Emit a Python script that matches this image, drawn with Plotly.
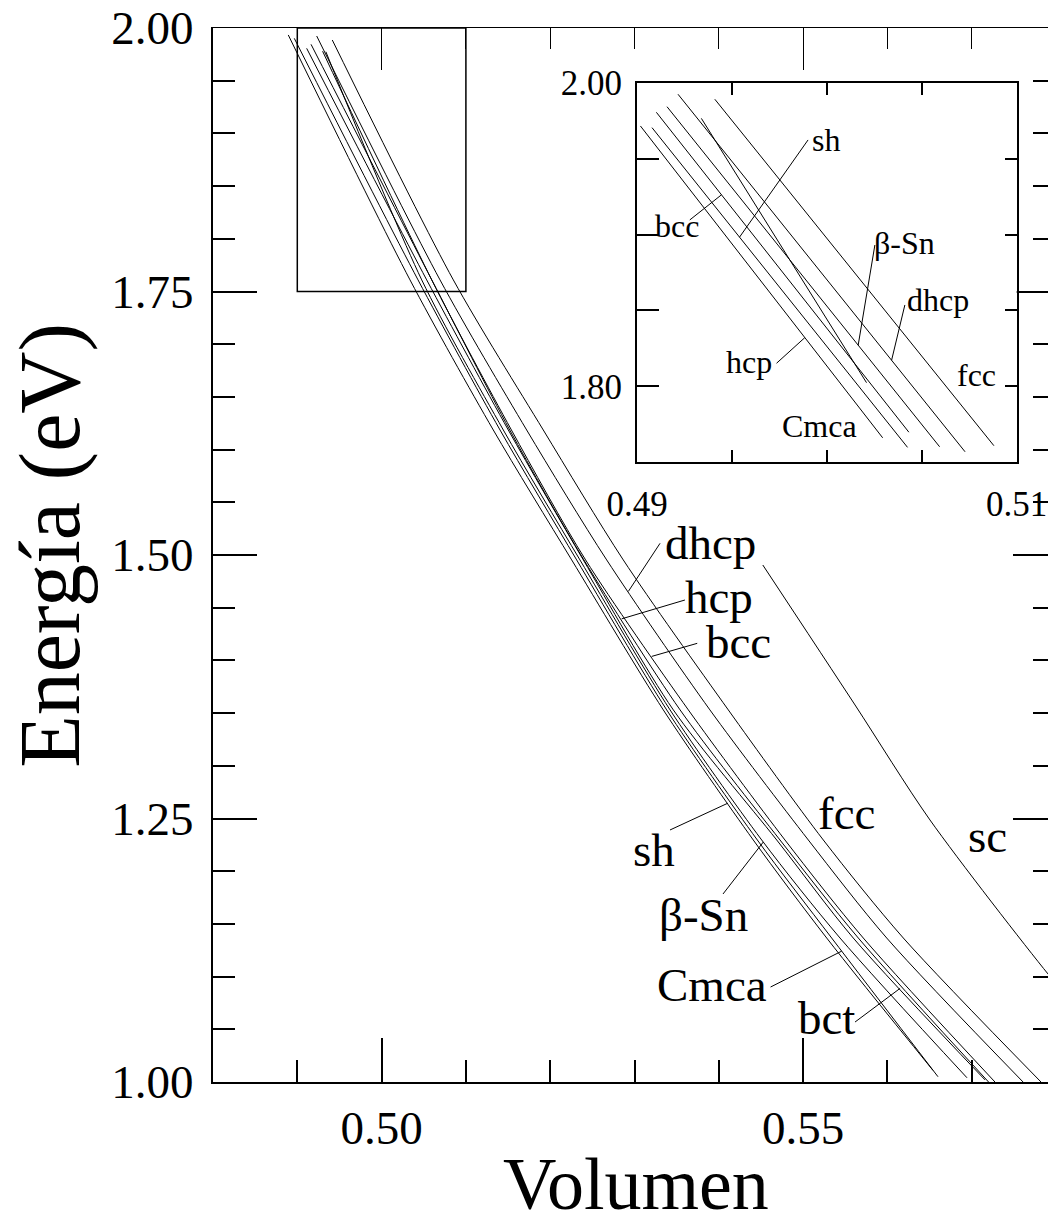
import numpy as np
import plotly.graph_objects as go

# ---------------- data ----------------
names = ["sh", "Cmca", "β-Sn", "bct", "hcp", "bcc", "dhcp", "fcc", "sc"]

# main panel: volume / energy samples of each E(V) curve
V_sh   = [0.48893, 0.50337, 0.51325, 0.52255, 0.53342, 0.54409, 0.55280, 0.56541]
E_sh   = [1.9934, 1.7610, 1.6186, 1.4953, 1.3530, 1.2296, 1.1366, 1.0110]
V_cmca = [0.48964, 0.50432, 0.51405, 0.52314, 0.53382, 0.54457, 0.55339, 0.56600]
E_cmca = [1.9902, 1.7610, 1.6186, 1.4953, 1.3530, 1.2296, 1.1366, 1.0050]
V_bsn  = [0.49339, 0.50476, 0.51444, 0.52353, 0.53422, 0.54509, 0.55438, 0.56944]
E_bsn  = [1.9775, 1.7610, 1.6186, 1.4953, 1.3530, 1.2296, 1.1366, 1.0040]
V_bct  = [0.49111, 0.50535, 0.51503, 0.52393, 0.53461, 0.54687, 0.55595, 0.57158]
E_bct  = [1.9807, 1.7610, 1.6186, 1.4953, 1.3530, 1.2296, 1.1366, 1.0020]
V_hcp  = [0.49163, 0.50595, 0.51520, 0.52400, 0.53541, 0.54726, 0.55655, 0.57200]
E_hcp  = [1.9845, 1.7610, 1.6186, 1.4953, 1.3530, 1.2296, 1.1366, 1.0000]
V_bcc  = [0.49300, 0.50595, 0.51540, 0.52420, 0.53639, 0.54785, 0.55714, 0.57276]
E_bcc  = [1.9780, 1.7610, 1.6186, 1.4953, 1.3530, 1.2296, 1.1366, 1.0000]
V_dhcp = [0.49230, 0.50693, 0.51721, 0.52670, 0.53895, 0.55062, 0.55992, 0.57609]
E_dhcp = [1.9924, 1.7610, 1.6186, 1.4953, 1.3530, 1.2296, 1.1366, 1.0000]
V_fcc  = [0.49415, 0.50851, 0.51918, 0.52867, 0.54113, 0.55240, 0.56189, 0.57822]
E_fcc  = [1.9886, 1.7610, 1.6186, 1.4953, 1.3530, 1.2296, 1.1366, 1.0000]
V_sc   = [0.54522, 0.55616, 0.56505, 0.57905, 0.58225]
E_sc   = [1.4905, 1.3577, 1.2486, 1.1025, 1.0730]

main_V = [V_sh, V_cmca, V_bsn, V_bct, V_hcp, V_bcc, V_dhcp, V_fcc, V_sc]
main_E = [E_sh, E_cmca, E_bsn, E_bct, E_hcp, E_bcc, E_dhcp, E_fcc, E_sc]

# inset panel: end points of each (nearly straight) segment
inV_fcc  = [0.49410, 0.50880]; inE_fcc  = [1.9891, 1.7609]
inV_dhcp = [0.49216, 0.50728]; inE_dhcp = [1.9924, 1.7569]
inV_bsn  = [0.49158, 0.50594]; inE_bsn  = [1.9842, 1.7602]
inV_hcp  = [0.49018, 0.50294]; inE_hcp  = [1.9715, 1.7661]
inV_bcc  = [0.49102, 0.50432]; inE_bcc  = [1.9805, 1.7698]
inV_sh   = [0.49079, 0.50425]; inE_sh   = [1.9704, 1.7598]
inV_bct  = [0.49339, 0.50209]; inE_bct  = [1.9765, 1.8024]
inset_V = [inV_fcc, inV_dhcp, inV_bsn, inV_hcp, inV_bcc, inV_sh, inV_bct]
inset_E = [inE_fcc, inE_dhcp, inE_bsn, inE_hcp, inE_bcc, inE_sh, inE_bct]

# axis ticks
x_major = [0.50, 0.55]
y_major = [1.00, 1.25, 1.50, 1.75, 2.00]
inset_xticks = [0.49, 0.495, 0.50, 0.505, 0.51]
inset_xtext = ["0.49", "", "", "", "0.51"]
inset_yticks = [1.75, 1.80, 1.85, 1.90, 1.95, 2.00]
inset_ytext = ["", "1.80", "", "", "", "2.00"]

FONT = "Liberation Serif"
BLK = "black"

fig = go.Figure()
for v, e in zip(main_V, main_E):
    fig.add_trace(go.Scatter(x=v, y=e, mode="lines", line=dict(color=BLK, width=1, shape="spline", smoothing=0.8),
                             xaxis="x", yaxis="y", showlegend=False, hoverinfo="skip"))
for v, e in zip(inset_V, inset_E):
    fig.add_trace(go.Scatter(x=v, y=e, mode="lines", line=dict(color=BLK, width=1),
                             xaxis="x3", yaxis="y3", showlegend=False, hoverinfo="skip"))
# invisible traces to activate the secondary (mirror) axes
fig.add_trace(go.Scatter(x=[0.5], y=[1.5], mode="none", xaxis="x2", yaxis="y", showlegend=False, hoverinfo="skip"))
fig.add_trace(go.Scatter(x=[0.5], y=[1.5], mode="none", xaxis="x", yaxis="y2", showlegend=False, hoverinfo="skip"))
fig.add_trace(go.Scatter(x=[0.5], y=[1.9], mode="none", xaxis="x3", yaxis="y4", showlegend=False, hoverinfo="skip"))

XR = [0.48, 0.57905]
YR = [1.0, 2.0]
common = dict(showgrid=False, zeroline=False, automargin=False)

fig.update_layout(
    width=1048, height=1225,
    margin=dict(l=213, r=0, t=28, b=143, autoexpand=False),
    paper_bgcolor="white", plot_bgcolor="white",
    font=dict(family=FONT, color=BLK),
    xaxis=dict(range=XR, domain=[0, 1], anchor="y", tickvals=x_major, tickformat=".2f",
               ticks="inside", ticklen=44, tickwidth=2, tickcolor=BLK,
               minor=dict(dtick=0.01, tick0=0.5, ticks="inside", ticklen=22, tickwidth=2, tickcolor=BLK),
               showline=True, linewidth=2, linecolor=BLK,
               tickfont=dict(size=47, family=FONT), ticklabelstandoff=4, **common),
    xaxis2=dict(range=XR, overlaying="x", side="top", anchor="y", tickvals=x_major,
                ticks="inside", ticklen=42, tickwidth=1, tickcolor=BLK,
                minor=dict(dtick=0.01, tick0=0.5, ticks="inside", ticklen=21, tickwidth=1, tickcolor=BLK),
                showline=True, linewidth=1, linecolor=BLK, showticklabels=False, **common),
    yaxis=dict(range=YR, domain=[0, 1], anchor="x", tickvals=y_major, tickformat=".2f",
               ticks="inside", ticklen=44, tickwidth=2, tickcolor=BLK,
               minor=dict(dtick=0.05, tick0=1.0, ticks="inside", ticklen=22, tickwidth=2, tickcolor=BLK),
               showline=True, linewidth=2, linecolor=BLK,
               tickfont=dict(size=47, family=FONT), ticklabelstandoff=8, **common),
    yaxis2=dict(range=YR, overlaying="y", side="right", anchor="x", tickvals=y_major,
                ticks="inside", ticklen=35, tickwidth=2, tickcolor=BLK,
                minor=dict(dtick=0.05, tick0=1.0, ticks="inside", ticklen=15, tickwidth=2, tickcolor=BLK),
                showline=False, showticklabels=False, **common),
    xaxis3=dict(range=[0.49, 0.51], domain=[0.5078, 0.9625], anchor="y3",
                tickvals=inset_xticks, ticktext=inset_xtext,
                ticks="inside", ticklen=12, tickwidth=2, tickcolor=BLK, mirror="ticks",
                showline=True, linewidth=2, linecolor=BLK,
                tickfont=dict(size=35, family=FONT), ticklabelstandoff=10, **common),
    yaxis3=dict(range=[1.75, 2.0], domain=[0.5880, 0.9481], anchor="x3",
                tickvals=inset_yticks, ticktext=inset_ytext,
                ticks="inside", ticklen=22, tickwidth=2, tickcolor=BLK, mirror=True,
                showline=True, linewidth=2, linecolor=BLK,
                tickfont=dict(size=35, family=FONT), ticklabelstandoff=6, **common),
    yaxis4=dict(range=[1.75, 2.0], overlaying="y3", side="right", anchor="x3",
                tickvals=inset_yticks[1:-1], ticks="inside", ticklen=12, tickwidth=2, tickcolor=BLK,
                showline=False, showticklabels=False, **common),
)

# rectangle marking the inset region
fig.add_shape(type="rect", xref="x", yref="y", x0=0.49, x1=0.51, y0=1.75, y1=2.0,
              line=dict(color=BLK, width=1.5))

def on_curve(v_arr, e_arr, v):
    order = np.argsort(v_arr)
    return float(np.interp(v, np.asarray(v_arr)[order], np.asarray(e_arr)[order]))

# main labels: (text, label x, label y, leader start x, leader start y, curve index, leader end V)
main_labels = [
    ("dhcp", 0.53907, 1.5114, 0.53303, 1.5111, 6, 0.52927),
    ("hcp", 0.54002, 1.4600, 0.53598, 1.4573, 4, 0.52848),
    ("bcc", 0.54228, 1.4170, 0.53744, 1.4162, 5, 0.53204),
    ("fcc", 0.55509, 1.2552, None, None, None, None),
    ("sc", 0.57182, 1.2334, None, None, None, None),
    ("sh", 0.53231, 1.2201, 0.53421, 1.2391, 0, 0.54107),
    ("β-Sn", 0.53819, 1.1584, 0.54050, 1.1784, 2, 0.54528),
    ("Cmca", 0.53919, 1.0920, 0.54614, 1.0901, 1, 0.55458),
    ("bct", 0.55272, 1.0607, 0.55616, 1.0569, 3, 0.56150),
]
for txt, lx, ly, sx, sy, ci, ev in main_labels:
    fig.add_annotation(x=lx, y=ly, xref="x", yref="y", text=txt, showarrow=False,
                       font=dict(size=47, family=FONT, color=BLK), xanchor="center", yanchor="middle",
                       borderpad=0)
    if ci is not None:
        ey = on_curve(main_V[ci], main_E[ci], ev)
        fig.add_shape(type="line", xref="x", yref="y", x0=sx, y0=sy, x1=ev, y1=ey,
                      line=dict(color=BLK, width=1))

inset_labels = [
    ("sh", 0.49995, 1.9623, 0.49901, 1.9623, 5, 0.49540),
    ("bcc", 0.49212, 1.9053, 0.49278, 1.9096, 4, 0.49445),
    ("β-Sn", 0.50411, 1.8944, 0.50253, 1.8931, 2, 0.50165),
    ("dhcp", 0.50585, 1.8569, 0.50411, 1.8536, 1, 0.50341),
    ("hcp", 0.49589, 1.8161, 0.49735, 1.8152, 3, 0.49884),
    ("fcc", 0.50786, 1.8074, None, None, None, None),
    ("Cmca", 0.49963, 1.7738, None, None, None, None),
]
for txt, lx, ly, sx, sy, ci, ev in inset_labels:
    fig.add_annotation(x=lx, y=ly, xref="x3", yref="y3", text=txt, showarrow=False,
                       font=dict(size=32, family=FONT, color=BLK), xanchor="center", yanchor="middle")
    if ci is not None:
        ey = on_curve(inset_V[ci], inset_E[ci], ev)
        fig.add_shape(type="line", xref="x3", yref="y3", x0=sx, y0=sy, x1=ev, y1=ey,
                      line=dict(color=BLK, width=1))

# axis titles
fig.add_annotation(text="Volumen", xref="paper", yref="paper", x=0.506, y=-0.0965,
                   showarrow=False, font=dict(size=74, family=FONT, color=BLK),
                   xanchor="center", yanchor="middle", borderpad=0)
fig.add_annotation(text="Energía (eV)", xref="paper", yref="paper", x=-0.196, y=0.509,
                   showarrow=False, textangle=-90, font=dict(size=86, family=FONT, color=BLK),
                   xanchor="center", yanchor="middle")

fig.write_html("out.html", config={"displayModeBar": False},
               post_script="document.body.style.margin='0px';document.body.style.overflow='hidden';")
